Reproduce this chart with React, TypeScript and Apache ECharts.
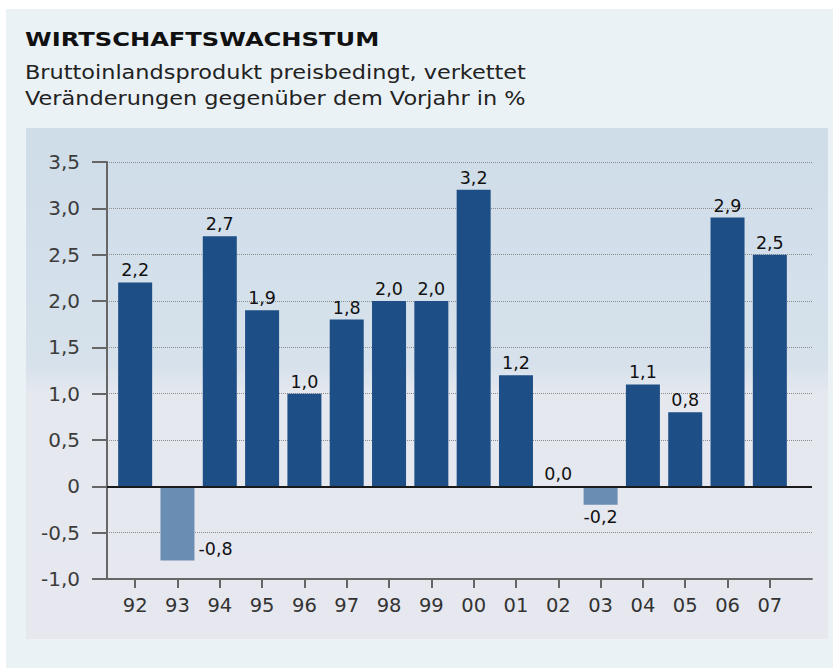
import React, { useEffect, useRef } from "react";
import * as echarts from "echarts";

const categories = ["92", "93", "94", "95", "96", "97", "98", "99", "00", "01", "02", "03", "04", "05", "06", "07"];
const values = [2.2, -0.8, 2.7, 1.9, 1.0, 1.8, 2.0, 2.0, 3.2, 1.2, 0.0, -0.2, 1.1, 0.8, 2.9, 2.5];
const titleText = "WIRTSCHAFTSWACHSTUM";
const subtitleLines = ["Bruttoinlandsprodukt preisbedingt, verkettet", "Veränderungen gegenüber dem Vorjahr in %"];
const yMin = -1;
const yMax = 3.5;
const yInterval = 0.5;

const POS = "#1d4e85";
const NEG = "#6a8db3";
const fmt = (v: number) => (v === 0 ? "0" : v.toFixed(1).replace(".", ","));
const fmtLabel = (v: number) => v.toFixed(1).replace(".", ",");

export default function App() {
  const ref = useRef<HTMLDivElement>(null);
  useEffect(() => {
    if (!ref.current) return;
    const chart = echarts.init(ref.current, undefined, { renderer: "svg" });
    const GT = 162;
    const GB = 668 - 579;
    const option: any = {
      animation: false,
      backgroundColor: "#ffffff",
      graphic: [
        { type: "rect", z: -10, silent: true, shape: { x: 6, y: 9, width: 827, height: 659 }, style: { fill: "#ebf2f6" } },
        {
          type: "rect", z: -9, silent: true,
          shape: { x: 26, y: 128, width: 802, height: 511 },
          style: {
            fill: new echarts.graphic.LinearGradient(0, 0, 0, 1, [
              { offset: 0, color: "#cfdde9" },
              { offset: 0.46, color: "#d6e1eb" },
              { offset: 0.52, color: "#e5e8ef" },
              { offset: 1, color: "#e7e8ef" },
            ]),
          },
        },
        {
          type: "text", x: 25, y: 39, scaleX: 1.21, silent: true,
          style: {
            text: titleText, fill: "#111", fontFamily: "DejaVu Sans", fontWeight: "bold", fontSize: 20,
            verticalAlign: "middle", align: "left",
          },
        },
        {
          type: "text", x: 25, y: 72, scaleX: 1.12, silent: true,
          style: {
            text: subtitleLines[0], fill: "#222", fontFamily: "DejaVu Sans", fontSize: 20,
            verticalAlign: "middle", align: "left",
          },
        },
        {
          type: "text", x: 25, y: 98, scaleX: 1.12, silent: true,
          style: {
            text: subtitleLines[1], fill: "#222", fontFamily: "DejaVu Sans", fontSize: 20,
            verticalAlign: "middle", align: "left",
          },
        },
      ],
      grid: [
        { left: 107, right: 21, top: GT, bottom: GB },
        { left: 114, width: 677, top: GT, bottom: GB },
      ],
      xAxis: [
        {
          type: "value", gridIndex: 0, min: 0, max: 1, position: "bottom",
          axisLine: { show: true, onZero: false, lineStyle: { color: "#666", width: 2 } },
          axisTick: { show: false }, axisLabel: { show: false }, splitLine: { show: false },
        },
        {
          type: "category", gridIndex: 1, data: categories, position: "bottom",
          axisLine: { show: false, onZero: false },
          axisTick: { show: true, alignWithLabel: true, length: 9, inside: false, lineStyle: { color: "#666", width: 2 } },
          axisLabel: { color: "#333", fontSize: 19.5, fontFamily: "DejaVu Sans", margin: 16 },
          splitLine: { show: false },
        },
      ],
      yAxis: [
        {
          type: "value", gridIndex: 0, min: yMin, max: yMax, interval: yInterval,
          axisLine: { show: true, lineStyle: { color: "#666", width: 2 } },
          axisTick: { show: true, length: 15, lineStyle: { color: "#666", width: 2 } },
          axisLabel: { formatter: fmt, color: "#3c3c3c", fontSize: 20, fontFamily: "DejaVu Sans", margin: 27 },
          splitLine: { show: true, lineStyle: { type: "dotted", color: "#8c8c8c", width: 1 } },
        },
        {
          type: "value", gridIndex: 1, min: yMin, max: yMax, interval: yInterval, show: false,
          splitLine: { show: false },
        },
      ],
      series: [
        {
          type: "line", xAxisIndex: 0, yAxisIndex: 0, data: [], silent: true,
          markLine: {
            silent: true, symbol: "none", label: { show: false },
            lineStyle: { color: "#1a1a1a", width: 2, type: "solid" },
            data: [{ yAxis: 0 }],
          },
        },
        {
          type: "bar", xAxisIndex: 1, yAxisIndex: 1, barWidth: 34, z: 3,
          data: values.map((v) => {
            let label: any = { show: true, position: "top", distance: 3 };
            if (v < -0.5) label = { show: true, position: "right", distance: 4, offset: [0, 26] };
            else if (v < 0) label = { show: true, position: "bottom", distance: 3 };
            return { value: v, itemStyle: { color: v < 0 ? NEG : POS }, label };
          }),
          label: {
            show: true, color: "#111", fontSize: 17.5, fontFamily: "DejaVu Sans",
            formatter: (p: any) => fmtLabel(p.value),
          },
        },
      ],
    };
    chart.setOption(option);
    return () => chart.dispose();
  }, []);
  return <div ref={ref} style={{ position: "fixed", left: 0, top: 0, width: 833, height: 668 }} />;
}
